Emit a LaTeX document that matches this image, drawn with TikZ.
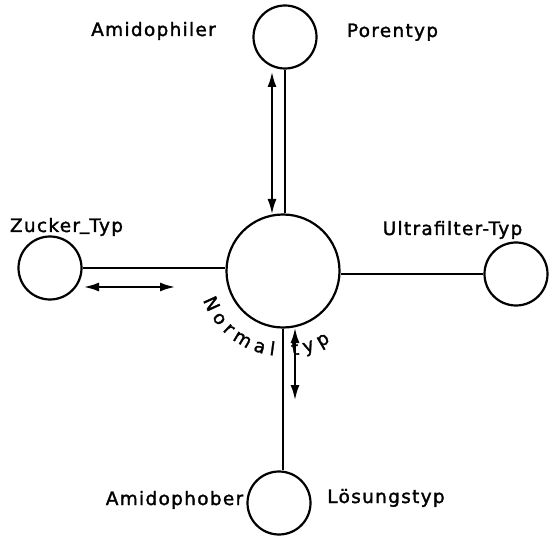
\documentclass[tikz,border=0pt]{standalone}
\usepackage{fontspec}
\usetikzlibrary{arrows.meta,decorations.text}
\newfontfamily\lblfont{DejaVu Sans}[LetterSpace=7,FakeBold=1.6]
\newcommand\lbl{\fontsize{18.5}{22}\lblfont}
\begin{document}
\begin{tikzpicture}[x=1pt,y=1pt,
  circ/.style={circle,draw,line width=2.2pt,inner sep=0pt},
  big/.style={circ,minimum size=113pt},
  small/.style={circ,minimum size=63pt},
  conn/.style={line width=2.2pt},
  dbl/.style={line width=1.9pt,{Latex[length=15pt,width=9pt]}-{Latex[length=15pt,width=9pt]}},
  lab/.style={font=\lbl,inner sep=0pt,anchor=base}]
\useasboundingbox (0,0) rectangle (549,539);
% circles
\node[big] (C) at (283,268) {};
\node[small] (T) at (285,502) {};
\node[small] (L) at (50,271) {};
\node[small] (R) at (516,265) {};
\node[small] (B) at (279,36) {};
% connectors
\draw[conn] (T.south) -- (T.south |- C.north);
\draw[conn] (L.east) -- (L.east -| C.west);
\draw[conn] (R.west) -- (R.west -| C.east);
\draw[conn] (C.south) -- (C.south |- B.north);
% double arrows
\coordinate (ta) at (272,467);
\coordinate (tb) at (272,325);
\coordinate (la) at (84,252);
\coordinate (lb) at (175,252);
\coordinate (ba) at (295,211);
\coordinate (bb) at (295,139);
\draw[dbl] (ta) -- (tb);
\draw[dbl] (la) -- (lb);
\draw[dbl] (ba) -- (bb);
% labels
\node[lab] (amph) at (153.5,503) {Amidophiler};
\node[lab] (pore) at (392.5,502) {Porentyp};
\node[lab] (zuck) at (66.5,307) {Zucker\raisebox{2.5pt}{\_}Typ};
\node[lab] (ultra) at (452.5,304) {Ultrafilter-Typ};
\node[lab] (amphob) at (174.5,34) {Amidophober};
\node[lab] (loes) at (386,36) {Lösungstyp};
% curved label
\path[decorate,decoration={text along path,text={|\lbl|Normal typ},text align={fit to path}}]
  (C) ++(200:85) arc[start angle=200,end angle=304,radius=85];
\end{tikzpicture}
\end{document}
